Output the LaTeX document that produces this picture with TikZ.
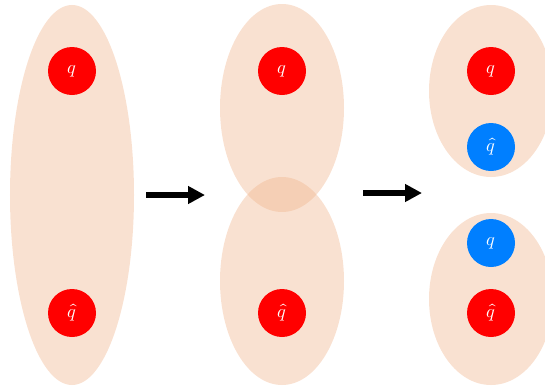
\documentclass[tikz,border=0pt]{standalone}
\usepackage{amsmath}
\usepackage{unicode-math}
\usetikzlibrary{shapes.geometric,arrows.meta,positioning}
\definecolor{blobfill}{RGB}{240,180,140}
\definecolor{qred}{RGB}{255,0,0}
\definecolor{qblue}{RGB}{0,127,255}
\tikzset{
  blob/.style={ellipse, fill=blobfill, fill opacity=0.4, draw=none,
               minimum width=62mm, inner sep=0pt},
  quark/.style={circle, minimum size=24mm, inner sep=0pt, draw=none,
                text=white, font=\fontsize{26}{30}\selectfont},
  qr/.style={quark, fill=qred},
  qb/.style={quark, fill=qblue},
  step arrow/.style={-{Triangle[length=8.5mm,width=8.5mm]}, line width=2.6mm}
}
\begin{document}
\begin{tikzpicture}[x=0.5mm, y=-0.5mm]
  \useasboundingbox (0,0) rectangle (545,387);

  % Stage 1: one long blob
  \node[blob, minimum height=190mm] (B1) at (72,195) {};
  \node[qr] (q1)  at (72,71)  {$q$};
  \node[qr] (h1)  at (72,313) {$\hat{q}$};

  % Stage 2: two overlapping blobs
  \node[blob, minimum height=104mm] (B2a) at (282,108) {};
  \node[blob, minimum height=104mm] (B2b) at (282,281) {};
  \node[qr] (q2)  at (282,71)  {$q$};
  \node[qr] (h2)  at (282,313) {$\hat{q}$};

  % Stage 3: two separate blobs, new pair created
  \node[blob, minimum height=86mm] (B3a) at (491,91)  {};
  \node[blob, minimum height=86mm] (B3b) at (491,299) {};
  \node[qr] (q3)  at (491,71)  {$q$};
  \node[qb] (h3b) at (491,147) {$\hat{q}$};
  \node[qb] (q3b) at (491,243) {$q$};
  \node[qr] (h3)  at (491,313) {$\hat{q}$};

  % arrows between stages
  \coordinate (a1s) at (146,195);
  \coordinate (a1e) at (205,195);
  \coordinate (a2s) at (363,193);
  \coordinate (a2e) at (422,193);
  \draw[step arrow] (a1s) -- (a1e);
  \draw[step arrow] (a2s) -- (a2e);

\end{tikzpicture}
\end{document}
